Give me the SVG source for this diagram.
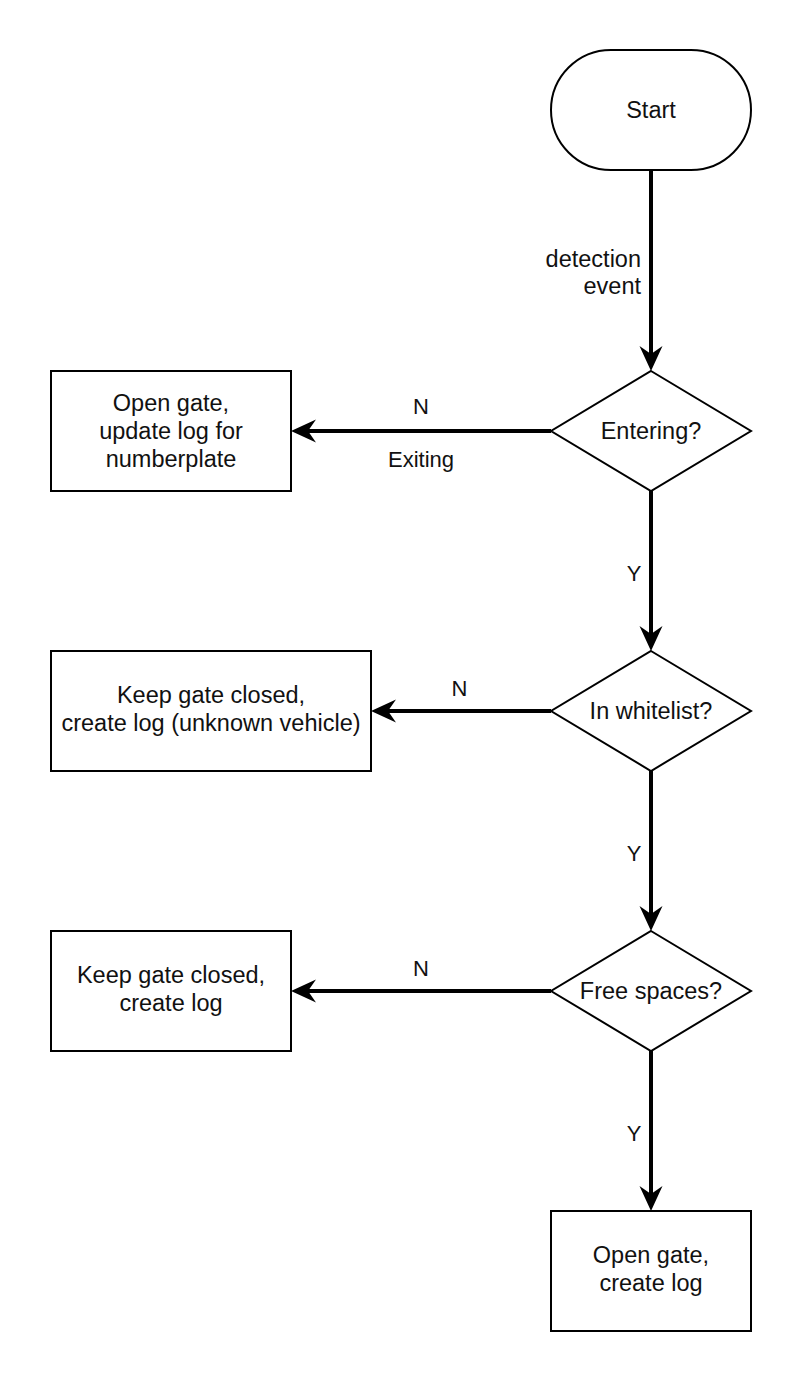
<svg xmlns="http://www.w3.org/2000/svg" width="802" height="1382" viewBox="0 0 802 1382">
<style>
.shape{fill:#fff;stroke:#000;stroke-width:2}
.edge{fill:none;stroke:#000;stroke-width:4}
.t{font-family:"Liberation Sans",Arial,sans-serif;font-size:23.5px;fill:#111;text-anchor:middle}
.l{font-family:"Liberation Sans",Arial,sans-serif;font-size:22px;fill:#111;text-anchor:middle}
</style>
<defs>
<marker id="arr" markerUnits="userSpaceOnUse" viewBox="0 -12 26 24" refX="8" refY="0" markerWidth="26" markerHeight="24" orient="auto">
<path d="M0,-11.5 L25,0 L0,11.5 L8,0 Z" fill="#000"/>
</marker>
</defs>
<rect width="802" height="1382" fill="#fff"/>
<g id="connectors">
<path class="edge" d="M651,170 L651,354" marker-end="url(#arr)"/>
<path class="edge" d="M551,431 L308,431" marker-end="url(#arr)"/>
<path class="edge" d="M651,491 L651,634" marker-end="url(#arr)"/>
<path class="edge" d="M551,711 L388,711" marker-end="url(#arr)"/>
<path class="edge" d="M651,771 L651,914" marker-end="url(#arr)"/>
<path class="edge" d="M551,991 L308,991" marker-end="url(#arr)"/>
<path class="edge" d="M651,1051 L651,1194" marker-end="url(#arr)"/>
<text class="t" style="text-anchor:end" x="641" y="267">detection</text>
<text class="t" style="text-anchor:end" x="641" y="294">event</text>
<text class="l" x="421" y="414">N</text>
<text class="l" x="421" y="467">Exiting</text>
<text class="l" x="634" y="581">Y</text>
<text class="l" x="459.5" y="696">N</text>
<text class="l" x="634" y="861">Y</text>
<text class="l" x="421" y="976">N</text>
<text class="l" x="634" y="1141">Y</text>
</g>
<g id="start">
<rect class="shape" x="551" y="50" width="200" height="120" rx="60" ry="60"/>
<text class="t" x="651" y="118">Start</text>
</g>
<g id="entering">
<polygon class="shape" points="651,371 751,431 651,491 551,431"/>
<text class="t" x="651" y="439">Entering?</text>
</g>
<g id="exit-box">
<rect class="shape" x="51" y="371" width="240" height="120"/>
<text class="t" x="171" y="411">Open gate,</text>
<text class="t" x="171" y="439">update log for</text>
<text class="t" x="171" y="467">numberplate</text>
</g>
<g id="whitelist">
<polygon class="shape" points="651,651 751,711 651,771 551,711"/>
<text class="t" x="651" y="719">In whitelist?</text>
</g>
<g id="unknown-box">
<rect class="shape" x="51" y="651" width="320" height="120"/>
<text class="t" x="211" y="703">Keep gate closed,</text>
<text class="t" x="211" y="731">create log (unknown vehicle)</text>
</g>
<g id="free">
<polygon class="shape" points="651,931 751,991 651,1051 551,991"/>
<text class="t" x="651" y="999">Free spaces?</text>
</g>
<g id="full-box">
<rect class="shape" x="51" y="931" width="240" height="120"/>
<text class="t" x="171" y="983">Keep gate closed,</text>
<text class="t" x="171" y="1011">create log</text>
</g>
<g id="open-box">
<rect class="shape" x="551" y="1211" width="200" height="120"/>
<text class="t" x="651" y="1263">Open gate,</text>
<text class="t" x="651" y="1291">create log</text>
</g>
</svg>
